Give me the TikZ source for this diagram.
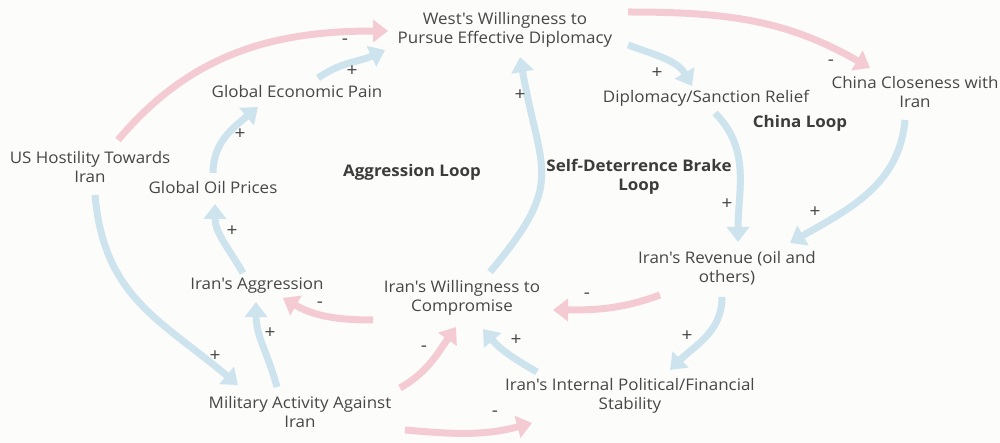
\documentclass[tikz,border=0pt]{standalone}
\usepackage{fontspec}
\setmainfont{Open Sans}[FakeStretch=1.06,Ligatures=TeXOff]
\usepackage{tikz}
\usetikzlibrary{arrows.meta}
\definecolor{pinkln}{HTML}{F5CBD3}
\definecolor{blueln}{HTML}{CDE4EF}
\definecolor{txt}{HTML}{474747}
\definecolor{bgc}{HTML}{FCFCFA}
\tikzset{
  var/.style={align=center,text=txt,font=\fontsize{16}{18.5}\selectfont,inner sep=0pt},
  loopname/.style={align=center,text=txt!85!black,font=\fontsize{16}{18.5}\selectfont\bfseries,inner sep=0pt},
  sgn/.style={text=txt,font=\fontsize{18}{18}\selectfont,inner sep=0pt},
  neglink/.style={line width=7pt,pinkln,-{Triangle[length=15pt,width=22pt]}},
  poslink/.style={line width=7pt,blueln,-{Triangle[length=15pt,width=22pt]}}
}
\begin{document}
\begin{tikzpicture}[x=1pt,y=1pt]
\fill[bgc] (0,0) rectangle (1000,-443);
\useasboundingbox (0,0) rectangle (1000,-443);
% variables
\node[var] (west) at (505,-30) {West's Willingness to\\Pursue Effective Diplomacy};
\node[var] (china) at (915,-92) {China Closeness with\\Iran};
\node[var] (dsr) at (706,-98) {Diplomacy/Sanction Relief};
\node[var] (gep) at (297,-92) {Global Economic Pain};
\node[var] (us) at (90,-167) {US Hostility Towards\\Iran};
\node[var] (gop) at (213,-188) {Global Oil Prices};
\node[var] (rev) at (727,-268) {Iran's Revenue (oil and\\others)};
\node[var] (agg) at (257,-286) {Iran's Aggression};
\node[var] (will) at (462,-298) {Iran's Willingness to\\Compromise};
\node[var] (mil) at (300,-412) {Military Activity Against\\Iran};
\node[var] (stab) at (630,-396) {Iran's Internal Political/Financial\\Stability};
% loops
\node[loopname] (aggloop) at (412,-172) {Aggression Loop};
\node[loopname] (sdloop) at (639,-177) {Self-Deterrence Brake\\Loop};
\node[loopname] (chinaloop) at (800,-123) {China Loop};
% links
\draw[neglink] ([shift={(28,27)}]us.center) to[out=50,in=180] ([shift={(-117,-1)}]west.center);
\draw[poslink] ([shift={(21,14)}]gep.center) to[out=35,in=205] ([shift={(-120,-20)}]west.center);
\draw[poslink] ([shift={(0,15)}]gop.center) to[out=90,in=220] ([shift={(-39,-15)}]gep.center);
\draw[poslink] ([shift={(-14,13)}]agg.center) to[out=120,in=-90] ([shift={(2,-16)}]gop.center);
\draw[poslink] ([shift={(5,-28)}]us.center) to[out=-85,in=140,looseness=1.1] ([shift={(-62,27)}]mil.center);
\draw[poslink] ([shift={(-23,25)}]mil.center) to[out=105,in=-90] ([shift={(-1,-16)}]agg.center);
\draw[neglink] ([shift={(-89,-22)}]will.center) to[out=180,in=-30] ([shift={(26,-12)}]agg.center);
\draw[neglink] ([shift={(100,24)}]mil.center) to[out=30,in=235] ([shift={(-6,-29)}]will.center);
\draw[neglink] ([shift={(105,-18)}]mil.center) to[out=-5,in=195] ([shift={(-98,-27)}]stab.center);
\draw[poslink] ([shift={(-93,24)}]stab.center) to[out=150,in=-50] ([shift={(21,-31)}]will.center);
\draw[neglink] ([shift={(-67,-27)}]rev.center) to[out=200,in=0] ([shift={(91,-12)}]will.center);
\draw[poslink] ([shift={(-5,-29)}]rev.center) to[out=-90,in=45] ([shift={(40,26)}]stab.center);
\draw[poslink] ([shift={(28,26)}]will.center) to[out=50,in=-80,looseness=1.4] ([shift={(15,-27)}]west.center);
\draw[poslink] ([shift={(123,-15)}]west.center) to[out=-20,in=120] ([shift={(-14,12)}]dsr.center);
\draw[neglink] ([shift={(123,18)}]west.center) to[out=0,in=150] ([shift={(-45,24)}]china.center);
\draw[poslink] ([shift={(9,-15)}]dsr.center) to[out=-45,in=90] ([shift={(11,26)}]rev.center);
\draw[poslink] ([shift={(-10,-28)}]china.center) to[out=-95,in=30] ([shift={(63,25)}]rev.center);
% polarity signs
\foreach \x/\y/\s [count=\i] in {345/42/-,352/71/+,240/134/+,232/231/+,215/356/+,270/333/+,320/305/-,424/349/-,495/414/-,516/340/+,587/296/-,687/336/+,520/95/+,657/73/+,831/63/-,727/204/+,815/212/+}
  \node[sgn] (s\i) at (\x,-\y) {\s};
\end{tikzpicture}
\end{document}
